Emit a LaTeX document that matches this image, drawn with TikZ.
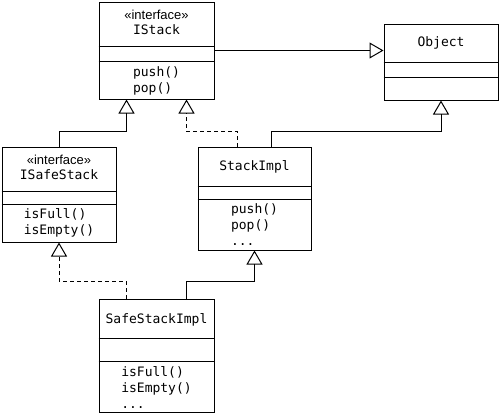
\documentclass[tikz,border=0pt]{standalone}
\usepackage{fontspec}
\setmainfont{Liberation Sans}
\setsansfont{Liberation Sans}
\setmonofont{DejaVu Sans Mono}
\usetikzlibrary{arrows.meta, positioning}

\begin{document}
\begin{tikzpicture}[x=1pt, y=-1pt,
    classbox/.style={draw, line width=1pt, inner sep=0pt},
    divider/.style={line width=0.8pt},
    stereo/.style={font=\sffamily\fontsize{13}{15}\selectfont, inner sep=0pt},
    cname/.style={font=\ttfamily\fontsize{13}{16}\selectfont, inner sep=0pt},
    ops/.style={font=\ttfamily\fontsize{13}{16}\selectfont, inner sep=0pt, align=left},
    gen/.style={line width=1pt, -{Triangle[open, length=14pt, width=16pt]}},
    real/.style={gen, dash pattern=on 4pt off 3pt}]
    \useasboundingbox (0,0) rectangle (500,415);

    % Class boxes
    \node[classbox, minimum width=115pt, minimum height=97pt] (istack) at (156.5,50.5) {};
    \node[classbox, minimum width=114pt, minimum height=76pt] (object) at (441,62) {};
    \node[classbox, minimum width=114pt, minimum height=95pt] (isafestack) at (59,194.5) {};
    \node[classbox, minimum width=113pt, minimum height=103pt] (stackimpl) at (254.5,198.5) {};
    \node[classbox, minimum width=115pt, minimum height=113pt] (safestackimpl) at (156.5,355.5) {};

    % Compartments
    \draw[divider] (istack.west |- 0,46) -- (istack.east |- 0,46);
    \draw[divider] (istack.west |- 0,61) -- (istack.east |- 0,61);
    \draw[divider] (object.west |- 0,62) -- (object.east |- 0,62);
    \draw[divider] (object.west |- 0,77) -- (object.east |- 0,77);
    \draw[divider] (isafestack.west |- 0,191) -- (isafestack.east |- 0,191);
    \draw[divider] (isafestack.west |- 0,204) -- (isafestack.east |- 0,204);
    \draw[divider] (stackimpl.west |- 0,186) -- (stackimpl.east |- 0,186);
    \draw[divider] (stackimpl.west |- 0,199) -- (stackimpl.east |- 0,199);
    \draw[divider] (safestackimpl.west |- 0,338) -- (safestackimpl.east |- 0,338);
    \draw[divider] (safestackimpl.west |- 0,361) -- (safestackimpl.east |- 0,361);

    % Names and operations
    \node[stereo] (istack-st) at (156.5,15) {«interface»};
    \node[cname] (istack-name) at (156.5,30) {IStack};
    \node[ops] (istack-ops) at (156.5,80.5) {push()\\pop()};
    \node[cname] (object-name) at (441,43) {Object};
    \node[stereo] (isafestack-st) at (59,160) {«interface»};
    \node[cname] (isafestack-name) at (59,175) {ISafeStack};
    \node[ops] (isafestack-ops) at (59,222.5) {isFull()\\isEmpty()};
    \node[cname] (stackimpl-name) at (254.5,167) {StackImpl};
    \node[ops] (stackimpl-ops) at (254.5,225) {push()\\pop()\\...};
    \node[cname] (safestackimpl-name) at (156.5,320) {SafeStackImpl};
    \node[ops] (safestackimpl-ops) at (156.5,388) {isFull()\\isEmpty()\\...};

    % Generalisations and realisations
    \draw[gen] (istack.east) -- (istack.east -| object.west);
    \draw[gen] (isafestack.north) -- ++(0,-15) -| ([xshift=-30pt]istack.south);
    \draw[real] ([xshift=-17pt]stackimpl.north) -- ++(0,-15) -| ([xshift=30pt]istack.south);
    \draw[gen] ([xshift=17pt]stackimpl.north) -- ++(0,-15) -| (object.south);
    \draw[real] ([xshift=-30pt]safestackimpl.north) -- ++(0,-17) -| (isafestack.south);
    \draw[gen] ([xshift=30pt]safestackimpl.north) -- ++(0,-17) -| (stackimpl.south);
\end{tikzpicture}
\end{document}
